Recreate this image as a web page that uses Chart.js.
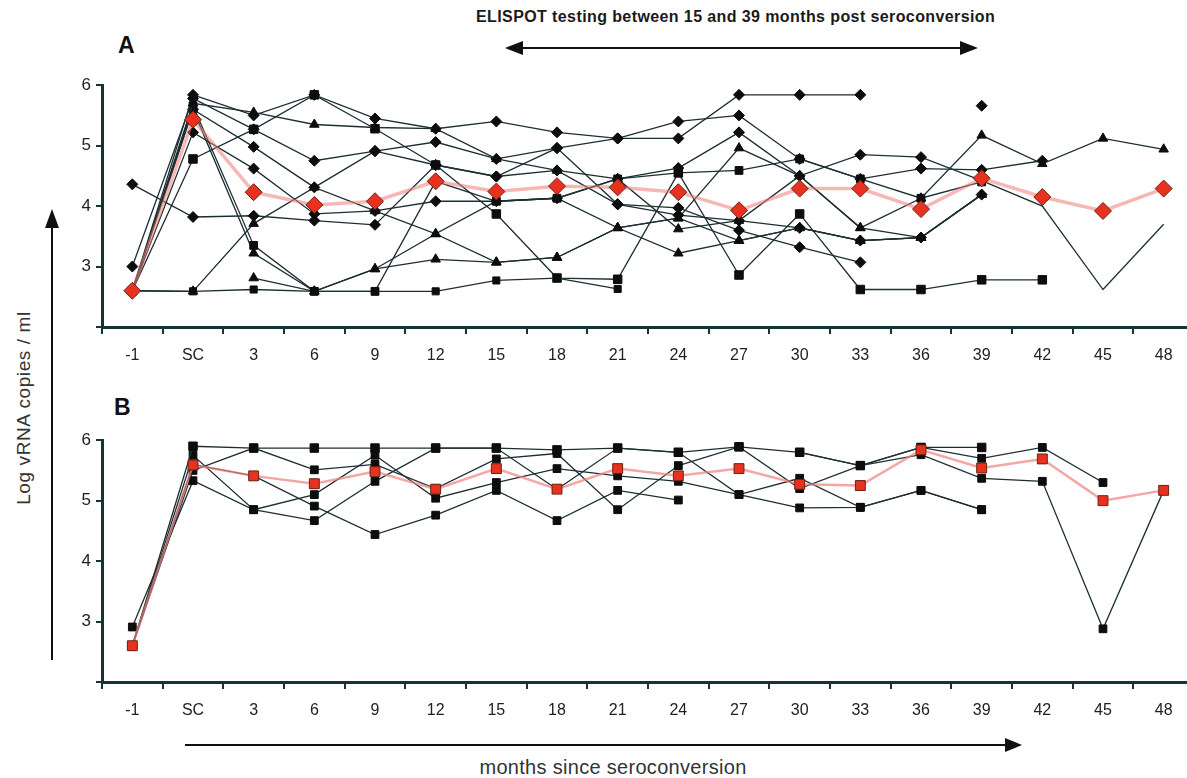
<!DOCTYPE html>
<html>
<head>
<meta charset="utf-8">
<script src="https://cdn.jsdelivr.net/npm/chart.js@4.4.0/dist/chart.umd.min.js"></script>
<style>
  html, body { margin: 0; padding: 0; background: #fff; overflow: hidden; }
  #wrap { position: relative; width: 1187px; height: 778px; overflow: hidden; font-family: 'Liberation Sans', Arial, sans-serif; color: #222; }
  canvas { position: absolute; left: 0; }
  .lbl { position: absolute; white-space: nowrap; }
  svg { position: absolute; left: 0; top: 0; }
</style>
</head>
<body>
<div id="wrap">
  <div class="lbl" style="left:476px; top:8px; font-weight:bold; font-size:16px; letter-spacing:0.4px; color:#1a1a1a;">ELISPOT testing between 15 and 39 months post seroconversion</div>
  <div class="lbl" style="left:118px; top:32px; font-weight:bold; font-size:23px; color:#111;">A</div>
  <div class="lbl" style="left:114px; top:394px; font-weight:bold; font-size:23px; color:#111;">B</div>
  <div class="lbl" style="left:24px; top:408px; font-size:19px; letter-spacing:0.6px; color:#333; transform:translate(-50%,-50%) rotate(-90deg);">Log vRNA copies / ml</div>
  <div class="lbl" style="left:613px; top:767px; font-size:20px; letter-spacing:0.3px; color:#333; transform:translate(-50%,-50%);">months since seroconversion</div>
  <svg width="1187" height="778">
    <g stroke="#111" stroke-width="2" fill="#111">
      <line x1="515" y1="48" x2="968" y2="48"/>
      <polygon points="505,48 523,41 523,55" stroke="none"/>
      <polygon points="978,48 960,41 960,55" stroke="none"/>
      <line x1="185" y1="745" x2="1010" y2="745"/>
      <polygon points="1022,745 1005,738 1005,752" stroke="none"/>
      <line x1="52" y1="660" x2="52" y2="222"/>
      <polygon points="52,209 45,228 59,228" stroke="none"/>
    </g>
  </svg>
  <canvas id="chartA" width="1200" height="310" style="top:70px"></canvas>
  <canvas id="chartB" width="1200" height="310" style="top:425px"></canvas>
</div>
<script>
// months since seroconversion
const months = ['-1', 'SC', '3', '6', '9', '12', '15', '18', '21', '24', '27', '30', '33', '36', '39', '42', '45', '48']

// panel A: mean and individual subjects (log vRNA copies / ml)
const meanA = [2.6, 5.43, 4.23, 4.02, 4.08, 4.41, 4.24, 4.33, 4.31, 4.23, 3.93, 4.29, 4.29, 3.95, 4.46, 4.15, 3.92, 4.29]
const subjA1 = [2.6, 5.70, 5.55, 5.35, 5.30, 5.28, 4.78, 4.59, 4.45, 3.62, 3.76, 4.50, 3.64, 4.13, 5.17, 4.70, 5.12, 4.94]
const subjA2 = [2.6, 5.84, 5.50, 5.84, 5.45, 5.28, 5.40, 5.22, 5.12, 5.40, 5.50, 4.78, 4.45, 4.62, 4.60, 4.75, null, null]
const subjA3 = [3.0, 5.78, 5.27, 4.75, 4.91, 4.68, 4.49, 4.96, 4.03, 3.97, 3.60, 3.32, 3.07, null, null, null, null, null]
const subjA4 = [2.6, 5.60, 4.98, 4.31, 4.91, 5.06, 4.78, 4.96, 5.12, 5.12, 5.84, 5.84, 5.84, null, 5.66, null, null, null]
const subjA5 = [2.6, 5.22, 4.62, 3.87, 3.92, 4.08, 4.08, 4.13, 4.45, 4.63, 5.22, 4.50, 4.85, 4.81, 4.42, 4.00, 2.62, 3.70]
const subjA6 = [4.36, 3.82, 3.84, 3.76, 3.69, 4.68, 4.49, 4.59, 4.03, 3.85, 3.76, 3.64, 3.43, 3.48, 4.19, null, null, null]
const subjA7 = [2.6, 5.66, 3.35, 2.59, 2.59, 4.41, 4.08, 4.13, 4.45, 4.55, 4.59, 4.78, 4.45, 4.13, 4.40, null, null, null]
const subjA8 = [2.6, 2.59, 2.62, 2.59, 2.59, 2.59, 2.77, 2.81, 2.63, null, null, null, null, null, null, null, null, null]
const subjA9 = [2.6, 2.59, 3.71, 4.31, 3.92, 3.54, 4.08, 4.13, 3.64, 3.80, 4.96, 4.50, 3.64, 3.48, null, null, null, null]
const subjA10 = [null, null, 2.81, 2.59, 2.96, 3.12, 3.07, 3.15, 3.64, 3.22, 3.43, 3.64, 3.43, 3.48, 4.19, null, null, null]
const subjA11 = [2.6, 4.78, 5.27, 5.84, 5.28, 4.68, 3.87, 2.81, 2.79, 4.55, 2.86, 3.87, 2.62, 2.62, 2.78, 2.78, null, null]
const subjA12 = [2.6, 5.60, 3.22, 2.59, 2.96, 3.54, 3.07, 3.15, 3.64, 3.80, 3.43, 3.64, 3.43, 3.48, 4.19, null, null, null]

// panel B
const meanB = [2.6, 5.59, 5.41, 5.28, 5.48, 5.19, 5.53, 5.19, 5.53, 5.41, 5.53, 5.27, 5.25, 5.84, 5.54, 5.69, 5.00, 5.17]
const subjB1 = [2.6, 5.90, 5.87, 5.87, 5.87, 5.87, 5.87, 5.84, 5.87, 5.80, 5.89, 5.80, 5.58, 5.88, 5.88, null, null, null]
const subjB2 = [2.91, 5.33, 4.85, 5.10, 5.75, 5.04, 5.30, 5.53, 5.41, 5.32, 5.10, 5.37, 4.89, 5.17, 4.85, null, null, null]
const subjB3 = [2.6, 5.60, 5.41, 4.91, 4.44, 4.76, 5.17, 4.67, 5.17, 5.01, null, null, null, null, null, null, null, null]
const subjB4 = [2.6, 5.50, 5.87, 5.51, 5.60, 5.20, 5.69, 5.78, 4.85, 5.58, 5.89, 5.20, 5.58, 5.76, 5.37, 5.32, 2.88, 5.17]
const subjB5 = [2.6, 5.75, 4.85, 4.67, 5.32, 5.87, 5.87, 5.19, 5.87, 5.80, 5.10, 4.88, 4.89, 5.17, 4.85, null, null, null]
const subjB6 = [null, null, null, null, null, null, null, null, null, null, null, 5.80, 5.58, 5.88, 5.70, 5.88, 5.30, null]

const FONT = "'Liberation Sans', Arial, sans-serif"
const AXIS = '#163434'
const LINE = '#1c2f33'

function subject(data, shape, radius, bareFrom) {
    return {
        data: data,
        borderColor: LINE,
        borderWidth: 1.3,
        pointStyle: shape,
        pointRadius: function (ctx) {
            if (bareFrom !== undefined && ctx.dataIndex >= bareFrom) return 0
            return radius
        },
        pointBackgroundColor: '#0d0d0d',
        pointBorderColor: '#0d0d0d',
        pointBorderWidth: 1,
        spanGaps: false,
    }
}

function mean(data, shape, radius, lineColor, lineWidth) {
    return {
        data: data,
        borderColor: lineColor,
        borderWidth: lineWidth,
        pointStyle: shape,
        pointRadius: radius,
        pointBackgroundColor: '#e8321f',
        pointBorderColor: '#6a2216',
        pointBorderWidth: 1,
    }
}

function makeChart(id, datasets, padTop) {
    return new Chart(document.getElementById(id), {
        type: 'line',
        data: { labels: months, datasets: datasets },
        options: {
            responsive: false,
            animation: false,
            events: [],
            layout: { autoPadding: false, padding: { top: padTop, right: 6, left: 0, bottom: 0 } },
            plugins: { legend: { display: false }, tooltip: { enabled: false } },
            scales: {
                x: {
                    type: 'category',
                    offset: true,
                    grid: { offset: true, drawOnChartArea: false, drawTicks: true, tickLength: 7, color: AXIS, lineWidth: 2 },
                    border: { display: true, color: AXIS, width: 3 },
                    ticks: { padding: 12, color: '#222', font: { family: FONT, size: 16 }, autoSkip: false, maxRotation: 0 },
                    afterFit: function (s) { s.height = 53 },
                },
                y: {
                    min: 2,
                    max: 6,
                    grid: { drawOnChartArea: false, drawTicks: true, tickLength: 6, color: AXIS, lineWidth: 2 },
                    border: { display: true, color: AXIS, width: 3 },
                    ticks: {
                        stepSize: 1,
                        padding: 5,
                        color: '#222',
                        font: { family: FONT, size: 17 },
                        callback: function (v) { return v >= 3 ? String(v) : '' },
                    },
                    afterFit: function (s) { s.width = 102 },
                },
            },
        },
    })
}

makeChart('chartA', [
    mean(meanA, 'rectRot', 8.5, 'rgba(238,125,118,0.55)', 3.5),
    subject(subjA1, 'triangle', 5.5),
    subject(subjA2, 'rectRot', 5.5),
    subject(subjA3, 'rectRot', 5.5),
    subject(subjA4, 'rectRot', 5.5),
    subject(subjA5, 'rectRot', 5.5, 15),
    subject(subjA6, 'rectRot', 5.5),
    subject(subjA7, 'rect', 5.5),
    subject(subjA8, 'rect', 5),
    subject(subjA9, 'triangle', 5.5),
    subject(subjA10, 'triangle', 5.5),
    subject(subjA11, 'rect', 6),
    subject(subjA12, 'triangle', 5.5),
], 13)

makeChart('chartB', [
    mean(meanB, 'rect', 7, 'rgba(240,130,125,0.7)', 2.5),
    subject(subjB1, 'rect', 6),
    subject(subjB2, 'rect', 5.5),
    subject(subjB3, 'rect', 5.5),
    subject(subjB4, 'rect', 5.5),
    subject(subjB5, 'rect', 5.5),
    subject(subjB6, 'rect', 5.5),
], 12)
</script>
</body>
</html>
